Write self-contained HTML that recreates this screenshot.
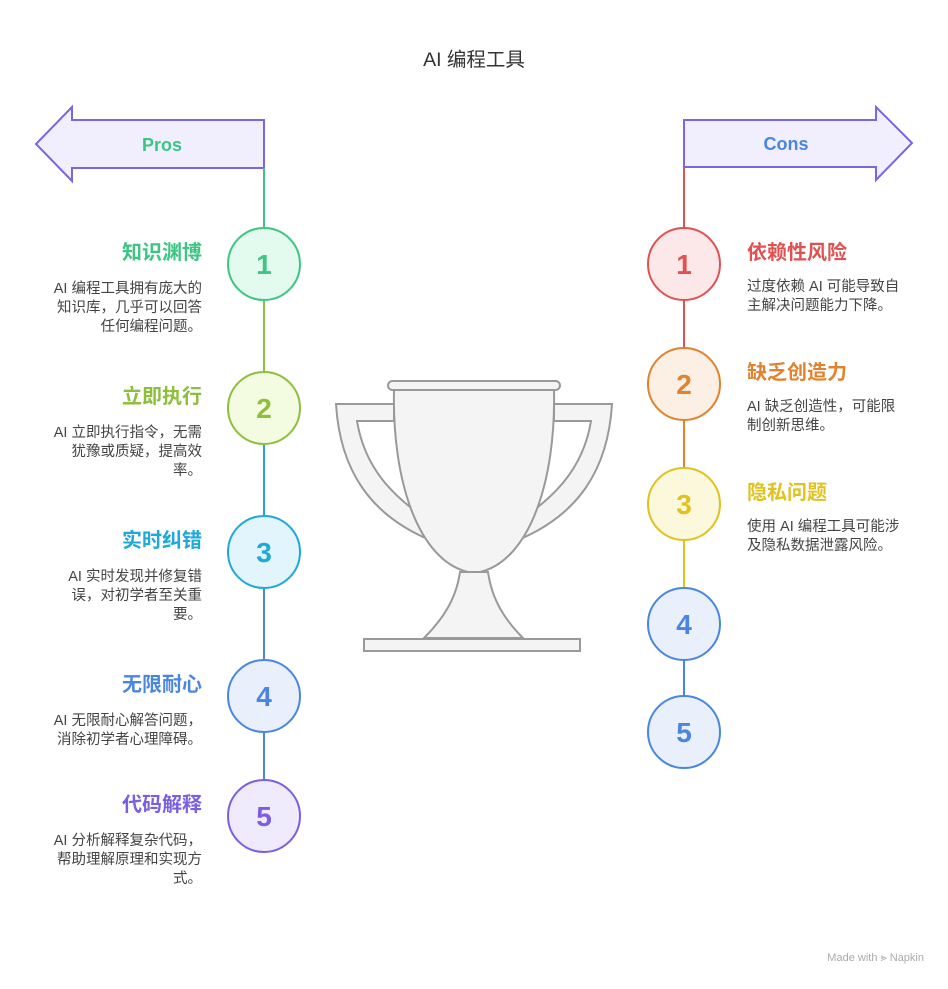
<!DOCTYPE html>
<html><head><meta charset="utf-8"><style>
html,body{margin:0;padding:0;background:#fff;}
svg text{font-family:"Liberation Sans","Noto Sans CJK SC",sans-serif;}
</style></head><body>
<svg width="948" height="984" viewBox="0 0 948 984" xmlns="http://www.w3.org/2000/svg">
<text x="474" y="66" text-anchor="middle" font-size="19.5" fill="#333">AI 编程工具</text>

<polygon points="264,120 72,120 72,107 36,144 72,181 72,168 264,168" fill="#f1effd" stroke="#7b66e0" stroke-width="2"/>
<text x="162" y="151" text-anchor="middle" font-size="18" font-weight="bold" fill="#3cc583">Pros</text>
<polygon points="684,120 876,120 876,107 912,143 876,180 876,167 684,167" fill="#f1effd" stroke="#7b66e0" stroke-width="2"/>
<text x="786" y="150" text-anchor="middle" font-size="18" font-weight="bold" fill="#4a86e0">Cons</text>

<g stroke-width="2">
<line x1="264" y1="168" x2="264" y2="228" stroke="#3cc583"/>
<line x1="264" y1="300" x2="264" y2="372" stroke="#8dbf3c"/>
<line x1="264" y1="444" x2="264" y2="516" stroke="#1fa8d8"/>
<line x1="264" y1="588" x2="264" y2="660" stroke="#4a86e0"/>
<line x1="264" y1="732" x2="264" y2="780" stroke="#4a86e0"/>
<line x1="684" y1="167" x2="684" y2="228" stroke="#e05252"/>
<line x1="684" y1="300" x2="684" y2="348" stroke="#e05252"/>
<line x1="684" y1="420" x2="684" y2="468" stroke="#e0822e"/>
<line x1="684" y1="540" x2="684" y2="588" stroke="#e0c21e"/>
<line x1="684" y1="660" x2="684" y2="696" stroke="#4a86e0"/>
</g>

<g stroke-width="2" font-size="28" font-weight="bold" text-anchor="middle">
<circle cx="264" cy="264" r="36" fill="#e3fbef" stroke="#3cc583"/><text x="264" y="274" fill="#3cc583">1</text>
<circle cx="264" cy="408" r="36" fill="#f3fbe1" stroke="#8dbf3c"/><text x="264" y="418" fill="#8dbf3c">2</text>
<circle cx="264" cy="552" r="36" fill="#e3f5fc" stroke="#1fa8d8"/><text x="264" y="562" fill="#1fa8d8">3</text>
<circle cx="264" cy="696" r="36" fill="#e9f0fc" stroke="#4a86e0"/><text x="264" y="706" fill="#4a86e0">4</text>
<circle cx="264" cy="816" r="36" fill="#efebfc" stroke="#7b5fe0"/><text x="264" y="826" fill="#7b5fe0">5</text>
<circle cx="684" cy="264" r="36" fill="#fce8e8" stroke="#e05252"/><text x="684" y="274" fill="#e05252">1</text>
<circle cx="684" cy="384" r="36" fill="#fcefe3" stroke="#e0822e"/><text x="684" y="394" fill="#e0822e">2</text>
<circle cx="684" cy="504" r="36" fill="#fcf8dc" stroke="#e0c21e"/><text x="684" y="514" fill="#e0c21e">3</text>
<circle cx="684" cy="624" r="36" fill="#e9f0fc" stroke="#4a86e0"/><text x="684" y="634" fill="#4a86e0">4</text>
<circle cx="684" cy="732" r="36" fill="#e9f0fc" stroke="#4a86e0"/><text x="684" y="742" fill="#4a86e0">5</text>
</g>

<g text-anchor="end" font-size="14.5" fill="#444">
<text x="202" y="259" font-size="20" font-weight="bold" fill="#3cc583">知识渊博</text>
<text x="202" y="293">AI 编程工具拥有庞大的</text>
<text x="202" y="312">知识库，几乎可以回答</text>
<text x="202" y="331">任何编程问题。</text>
<text x="202" y="403" font-size="20" font-weight="bold" fill="#8dbf3c">立即执行</text>
<text x="202" y="437">AI 立即执行指令，无需</text>
<text x="202" y="456">犹豫或质疑，提高效</text>
<text x="202" y="475">率。</text>
<text x="202" y="547" font-size="20" font-weight="bold" fill="#1fa8d8">实时纠错</text>
<text x="202" y="581">AI 实时发现并修复错</text>
<text x="202" y="600">误，对初学者至关重</text>
<text x="202" y="619">要。</text>
<text x="202" y="691" font-size="20" font-weight="bold" fill="#4a86e0">无限耐心</text>
<text x="202" y="725">AI 无限耐心解答问题，</text>
<text x="202" y="744">消除初学者心理障碍。</text>
<text x="202" y="811" font-size="20" font-weight="bold" fill="#7b5fe0">代码解释</text>
<text x="202" y="845">AI 分析解释复杂代码，</text>
<text x="202" y="864">帮助理解原理和实现方</text>
<text x="202" y="883">式。</text>
</g>
<g font-size="14.5" fill="#444">
<text x="747" y="259" font-size="20" font-weight="bold" fill="#e05252">依赖性风险</text>
<text x="747" y="291">过度依赖 AI 可能导致自</text>
<text x="747" y="310">主解决问题能力下降。</text>
<text x="747" y="379" font-size="20" font-weight="bold" fill="#e0822e">缺乏创造力</text>
<text x="747" y="411">AI 缺乏创造性，可能限</text>
<text x="747" y="430">制创新思维。</text>
<text x="747" y="499" font-size="20" font-weight="bold" fill="#e0c21e">隐私问题</text>
<text x="747" y="531">使用 AI 编程工具可能涉</text>
<text x="747" y="550">及隐私数据泄露风险。</text>
</g>

<g fill="#f4f4f4" stroke="#999" stroke-width="2">
<path d="M394,404 L336,404 C340,470 370,515 430,540 L440,528 C395,500 365,470 357,421 L394,421 Z"/>
<path d="M554,404 L612,404 C608,470 578,515 518,540 L508,528 C553,500 583,470 591,421 L554,421 Z"/>
<path d="M460,572 L488,572 C492,600 505,620 523,638 L424,638 C442,620 456,600 460,572 Z"/>
<path d="M394,390 L554,390 C556,480 530,560 480,572 L468,572 C418,560 392,480 394,390 Z"/>
<rect x="388" y="381" width="172" height="9" rx="4.5"/>
<rect x="364" y="639" width="216" height="12"/>
</g>

<text x="924" y="961" text-anchor="end" font-size="11" fill="#aaa">Made with ⪢ Napkin</text>
</svg>
</body></html>
